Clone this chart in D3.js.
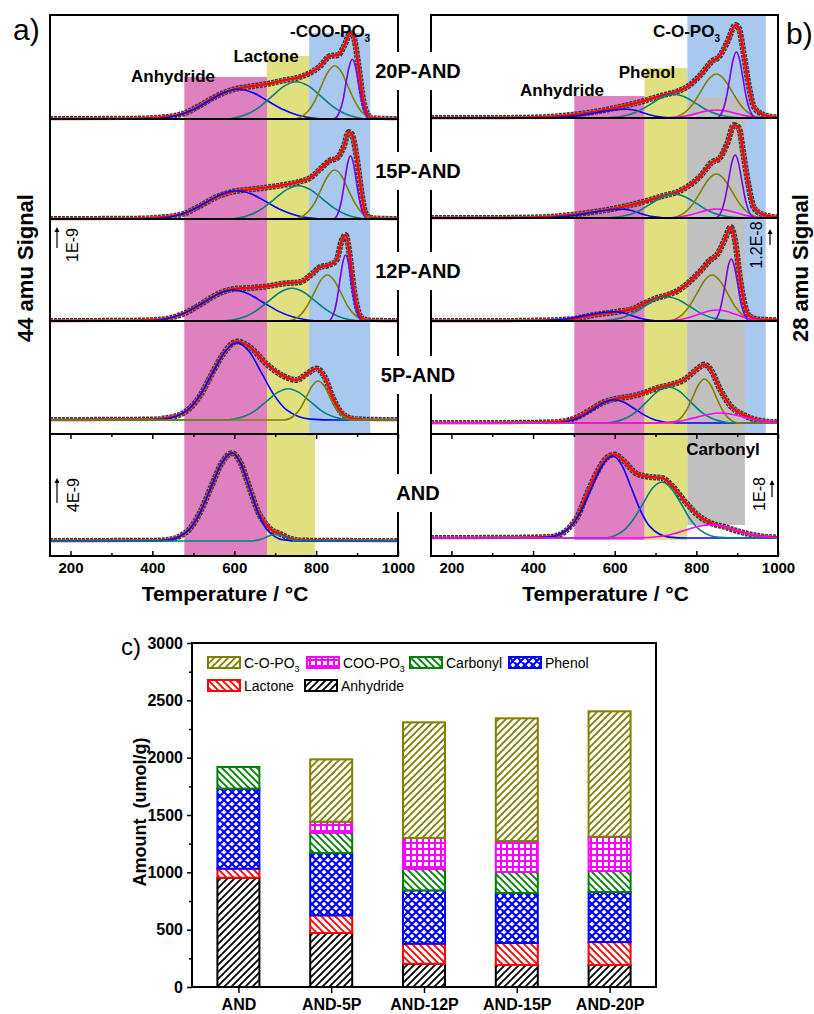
<!DOCTYPE html>
<html>
<head>
<meta charset="utf-8">
<script src="https://cdn.jsdelivr.net/npm/d3@7"></script>
<style>
body { margin: 0; background: #fff; }
svg text { font-family: "Liberation Sans", Arial, Helvetica, sans-serif; }
</style>
</head>
<body>
<svg id="chart" width="814" height="1014"></svg>
<script>
// ---- panels a) / b): TPD signals, [temperature (C), signal (a.u.)] ----
var tempTicks = [200, 400, 600, 800, 1000];
var tempMinor = [300, 500, 700, 900];
var rowLabels = ["20P-AND", "15P-AND", "12P-AND", "5P-AND", "AND"];

// shaded ranges (C)
var co2Bands = [[478, 680], [680, 797], [783, 932]];            // anhydride, lactone, -COO-PO3
var coBands = [[501, 673], [673, 778], [778, 970], [778, 919]];  // anhydride, phenol, C-O-PO3, carbonyl

// 44 amu, peaks: anhydride, lactone, 3rd, 4th
var co2_20P = {
	fit: [[150,0],[350,0.3],[419,1.5],[478,5.7],[516,13.5],[557,23],[598,29.5],[638,32.5],[679,35],[720,38.5],[761,42],[785,46],[810,53],[834,63],[854,64],[871,75.5],[883,86],[891,83],[903,55],[915,19],[923,7],[936,1],[960,0.3],[1000,0]],
	peaks: [
		[[394,0],[466,4.0],[502,9.7],[538,18.0],[574,26.2],[610,29.7],[646,26.2],[682,18.0],[718,9.7],[754,4.0],[826,0]],
		[[572,0],[632,5.0],[662,12.1],[692,22.6],[722,32.9],[752,37.3],[782,32.9],[812,22.6],[842,12.1],[872,5.0],[932,0]],
		[[746,0],[779,7.2],[796,17.3],[812,32.4],[829,47.0],[845,53.3],[862,47.0],[878,32.4],[895,17.3],[911,7.2],[944,0]],
		[[843,0],[858,8.1],[866,19.4],[873,36.2],[881,52.7],[888,59.7],[896,52.7],[903,36.2],[911,19.4],[918,8.1],[933,0]]
	]
};
var co2_15P = {
	fit: [[150,0],[350,0.3],[419,1.5],[478,5.5],[516,13],[557,22],[598,27.5],[638,29.5],[679,31.5],[720,34],[761,37.5],[785,41],[810,50],[834,58.5],[850,60.5],[867,72],[880,87],[887,85],[899,62],[911,26],[919,8],[931,1.3],[960,0.3],[1000,0]],
	peaks: [
		[[390,0],[462,3.8],[498,9.2],[534,17.2],[570,25.0],[606,28.3],[642,25.0],[678,17.2],[714,9.2],[750,3.8],[822,0]],
		[[583,0],[641,4.5],[670,10.8],[699,20.2],[728,29.4],[757,33.3],[786,29.4],[815,20.2],[844,10.8],[873,4.5],[931,0]],
		[[746,0],[779,6.6],[796,15.9],[812,29.7],[829,43.2],[845,49],[862,43.2],[878,29.7],[895,15.9],[911,6.6],[944,0]],
		[[842,0],[856,8.5],[863,20.6],[870,38.4],[877,55.8],[884,63.3],[891,55.8],[898,38.4],[905,20.6],[912,8.5],[926,0]]
	]
};
var co2_12P = {
	fit: [[150,0],[350,0.3],[419,1.4],[478,7.7],[516,16.2],[557,26.4],[598,32],[638,33],[679,34.6],[720,37.5],[761,39],[790,47],[810,54],[832,56],[850,61],[862,80],[872,86],[882,66],[892,32],[902,11],[915,2],[940,0.3],[1000,0]],
	peaks: [
		[[382,0],[454,4.2],[490,10.1],[526,18.8],[562,27.3],[598,31],[634,27.3],[670,18.8],[706,10.1],[742,4.2],[814,0]],
		[[570,0],[627,4.4],[655,10.6],[684,19.8],[712,28.8],[741,32.7],[770,28.8],[798,19.8],[827,10.6],[855,4.4],[912,0]],
		[[729,0],[762,6.2],[778,15],[795,27.9],[811,40.6],[828,46],[844,40.6],[861,27.9],[877,15],[894,6.2],[927,0]],
		[[830,0],[844,8.9],[851,21.5],[858,40.1],[865,58.2],[872,66],[879,58.2],[886,40.1],[893,21.5],[900,8.9],[914,0]]
	]
};
var co2_5P = {
	fit: [[150,0],[400,0.5],[435,2],[478,7.5],[516,24],[549,49],[573,66],[607,78.5],[638,73],[679,56],[720,44],[752,40],[777,46],[801,51.5],[822,42],[841,22],[866,5.5],[891,1.2],[923,0.3],[1000,0]],
	peaks: [
		[[367,0],[427,0.9],[487,10.4],[517,25.1],[547,46.9],[577,68.2],[607,77.3],[637,68.2],[667,46.9],[697,25.1],[727,10.4],[787,0.9],[847,0]],
		[[576,0],[628,4.2],[654,10.2],[680,19],[706,27.6],[732,31.3],[758,27.6],[784,19],[810,10.2],[836,4.2],[888,0]],
		[[721,0],[749,5.3],[763,12.7],[777,23.7],[791,34.4],[805,39],[819,34.4],[833,23.7],[847,12.7],[861,5.3],[889,0]]
	]
};
var co2_AND = {
	fit: [[150,0],[400,0.3],[439,1.2],[470,5.5],[491,12],[517,29],[543,53.5],[569,77.6],[595,88],[616,77.6],[637,53.5],[658,29.5],[679,16],[695,10],[708,8],[720,5.5],[740,2],[770,0.4],[1000,0]],
	peaks: [
		[[387,0],[439,1.0],[491,11.9],[517,28.6],[543,53.4],[569,77.6],[595,88],[616,77.6],[637,53.4],[658,28.6],[679,11.9],[721,1.0],[763,0]],
		[[636,0],[658,0.9],[669,2.2],[680,4.1],[691,5.9],[702,6.7],[713,5.9],[724,4.1],[735,2.2],[746,0.9],[768,0]]
	]
};

// 28 amu, peaks: anhydride, phenol, 3rd, carbonyl, C-O-PO3
var co_20P = {
	fit: [[150,0],[300,0],[400,0.5],[491,3],[548,6],[606,10.5],[671,17],[720,23],[753,26.5],[777,31],[810,43],[839,57],[855,61],[876,76],[896,93],[904,90],[916,64],[929,31],[941,11],[966,3],[1000,0.5]],
	peaks: [
		[[405,0],[480,1.2],[517,2.8],[555,5.3],[592,7.7],[630,8.7],[650,7.7],[670,5.3],[690,2.8],[710,1.2],[750,0]],
		[[580,0],[635,3.2],[662,7.7],[690,14.4],[717,20.9],[745,23.7],[772,20.9],[800,14.4],[827,7.7],[855,3.2],[910,0]],
		[[735,0],[773,5.9],[792,14.3],[811,26.7],[830,38.8],[849,44],[868,38.8],[887,26.7],[906,14.3],[925,5.9],[963,0]],
		[[714,0],[759,1.1],[781,2.6],[804,4.9],[826,7.1],[849,8],[871,7.1],[894,4.9],[916,2.6],[939,1.1],[984,0]],
		[[850,0],[866,8.9],[874,21.5],[882,40.1],[890,58.2],[898,66],[906,58.2],[914,40.1],[922,21.5],[930,8.9],[946,0]]
	]
};
var co_15P = {
	fit: [[150,0],[300,0],[400,0.5],[491,3],[548,6],[606,10],[671,16.3],[720,22.3],[753,26],[777,31],[810,42],[839,56],[855,59],[876,75],[892,93],[904,90],[916,62],[929,30],[941,10],[966,3],[1000,0.7]],
	peaks: [
		[[393,0],[468,1.2],[505,2.8],[543,5.3],[580,7.7],[618,8.7],[638,7.7],[658,5.3],[678,2.8],[698,1.2],[738,0]],
		[[580,0],[635,3.2],[662,7.8],[690,14.6],[717,21.2],[745,24],[772,21.2],[800,14.6],[827,7.8],[855,3.2],[910,0]],
		[[735,0],[773,5.9],[792,14.3],[811,26.7],[830,38.8],[849,44],[868,38.8],[887,26.7],[906,14.3],[925,5.9],[963,0]],
		[[716,0],[761,1.2],[783,2.9],[806,5.5],[828,7.9],[851,9],[873,7.9],[896,5.5],[918,2.9],[941,1.2],[986,0]],
		[[847,0],[863,8.5],[871,20.5],[879,38.2],[887,55.6],[895,63],[903,55.6],[911,38.2],[919,20.5],[927,8.5],[943,0]]
	]
};
var co_12P = {
	fit: [[150,0],[300,0],[420,0.5],[491,1.7],[548,6],[606,9.3],[650,13],[671,17.5],[700,22.5],[728,26],[753,30],[780,38],[810,50],[834,61],[850,66],[870,82],[884,94],[895,80],[906,45],[918,17],[930,5],[955,1.5],[1000,0.8]],
	peaks: [
		[[390,0],[460,1.3],[495,3],[530,5.6],[565,8.2],[600,9.3],[620,8.2],[640,5.6],[660,3],[680,1.3],[720,0]],
		[[563,0],[618,3.3],[645,7.9],[673,14.7],[700,21.4],[728,24.3],[755,21.4],[783,14.7],[810,7.9],[838,3.3],[893,0]],
		[[728,0],[765,6.2],[783,15],[802,27.9],[820,40.6],[839,46],[857,40.6],[876,27.9],[894,15],[913,6.2],[950,0]],
		[[716,0],[761,1.5],[783,3.6],[806,6.7],[828,9.7],[851,11],[873,9.7],[896,6.7],[918,3.6],[941,1.5],[986,0]],
		[[841,0],[856,8.4],[863,20.2],[871,37.6],[878,54.7],[886,62],[893,54.7],[901,37.6],[908,20.2],[916,8.4],[931,0]]
	]
};
var co_5P = {
	fit: [[150,0],[300,0],[430,0.5],[475,1.7],[508,5.7],[540,13],[573,20.7],[606,24.5],[638,26.5],[671,30],[704,35],[736,38.3],[769,43],[802,54],[820,58.5],[835,53.5],[859,33],[884,17],[916,8],[957,2.3],[1000,0.7]],
	peaks: [
		[[449,0],[499,3.1],[524,7.6],[549,14.1],[574,20.6],[599,23.3],[624,20.6],[649,14.1],[674,7.6],[699,3.1],[749,0]],
		[[576,0],[628,4.9],[654,11.7],[680,21.9],[706,31.8],[732,36],[758,31.8],[784,21.9],[810,11.7],[836,4.9],[888,0]],
		[[736,0],[764,5.9],[778,14.3],[792,26.7],[806,38.8],[820,44],[834,38.8],[848,26.7],[862,14.3],[876,5.9],[904,0]],
		[[694,0],[749,1.4],[776,3.3],[804,6.1],[831,8.8],[859,10],[886,8.8],[914,6.1],[941,3.3],[969,1.4],[1000,0.4]]
	]
};
var co_AND = {
	fit: [[150,0],[350,0.3],[420,0.8],[442,1.2],[467,3.5],[491,11.5],[507,20],[532,44],[557,66],[580,80],[600,83.5],[622,77],[655,64],[687,61],[716,60],[741,52],[773,36],[806,22],[835,15],[870,11],[900,7],[950,2.2],[1000,0.5]],
	peaks: [
		[[387,0],[439,0.9],[491,11.1],[517,26.7],[543,49.7],[569,72.3],[595,82],[618,72.3],[641,49.7],[664,26.7],[687,11.1],[733,0.9],[779,0]],
		[[575,0],[622,7.6],[645,18.2],[669,34],[692,49.4],[716,56],[739,49.4],[763,34],[786,18.2],[810,7.6],[857,0.6],[904,0]],
		null,
		[[655,0],[715,1.8],[745,4.3],[775,8.1],[805,11.7],[835,13.3],[865,11.7],[895,8.1],[925,4.3],[955,1.8],[1000,0.3]]
	]
};

// ---- panel c): amounts (umol/g) ----
var samples = ["AND", "AND-5P", "AND-12P", "AND-15P", "AND-20P"];
var anhydride = [953, 471, 203, 192, 192];
var lactone = [79, 154, 175, 192, 200];
var phenol = [698, 544, 465, 436, 436];
var carbonyl = [189, 177, 186, 183, 184];
var cooPO3 = [0, 96, 270, 270, 299];
var coPO3 = [0, 543, 1009, 1070, 1093];
var amountTicks = [0, 500, 1000, 1500, 2000, 2500, 3000];
var amountMinor = [250, 750, 1250, 1750, 2250, 2750];

var svg = d3.select("#chart");
var defs = svg.append("defs");
var fontFamily = '"Liberation Sans", Arial, sans-serif';

var xA = d3.scaleLinear().domain([150, 1000]).range([50, 398]);
var xB = d3.scaleLinear().domain([150, 1000]).range([431, 778]);
var frameTop = 15, frameBottom = 556, splitY = 434;
var colorsA = ["#0000ff", "#008080", "#808000", "#8000e0"];
var colorsB = ["#0000ff", "#008080", "#808000", "#ff00ff", "#8000e0"];

function shade(x, band, top, bottom, fill) {
	svg.append("rect")
		.attr("x", x(band[0])).attr("y", top)
		.attr("width", x(band[1]) - x(band[0])).attr("height", bottom - top)
		.attr("fill", fill);
}

// shaded regions
shade(xA, co2Bands[0], 77, frameBottom, "#df80c0");
shade(xA, co2Bands[1], 56, frameBottom, "#e0e080");
shade(xA, co2Bands[2], 33, splitY, "#a8c8f0");
shade(xB, coBands[1], 68, 540, "#e0e080");
shade(xB, coBands[0], 96, 540, "#df80c0");
shade(xB, coBands[2], frameTop, splitY, "#a8c8f0");
shade(xB, coBands[3], 97, 525, "#c0c0c0");

var clipCount = 0;
function drawRow(x, base, top, row, colors) {
	var y = d3.scaleLinear().domain([0, 100]).range([base, base - 100]);
	var line = d3.line()
		.x(function (d) { return x(d[0]); })
		.y(function (d) { return y(d[1]); })
		.curve(d3.curveMonotoneX);

	var id = "rowclip" + (clipCount++);
	svg.append("clipPath").attr("id", id).append("rect")
		.attr("x", x.range()[0]).attr("y", top)
		.attr("width", x.range()[1] - x.range()[0]).attr("height", base - top + 0.5);

	// measured points (open circles) shown as a band
	svg.append("path").datum(row.fit)
		.attr("d", line).attr("clip-path", "url(#" + id + ")")
		.attr("fill", "none").attr("stroke", "#383838").attr("stroke-width", 6)
		.attr("stroke-dasharray", "3,1");
	svg.append("path").datum(row.fit)
		.attr("d", line).attr("clip-path", "url(#" + id + ")")
		.attr("fill", "none").attr("stroke", "#a0a0a0").attr("stroke-width", 3);
	// cumulative fit
	svg.append("path").datum(row.fit)
		.attr("d", line).attr("fill", "none")
		.attr("stroke", "#ff0000").attr("stroke-width", 2.6);
	// fitted peaks
	row.peaks.forEach(function (p, i) {
		if (!p) return;
		var pts = [[x.domain()[0], 0]].concat(p);
		if (p[p.length - 1][0] < x.domain()[1]) pts.push([x.domain()[1], 0]);
		svg.append("path").datum(pts)
			.attr("d", line).attr("fill", "none")
			.attr("stroke", colors[i]).attr("stroke-width", 1.6);
	});
}

var rowsA = [co2_20P, co2_15P, co2_12P, co2_5P, co2_AND];
var rowsB = [co_20P, co_15P, co_12P, co_5P, co_AND];
var basesA = [119, 219, 321, 420, 541];
var basesB = [118, 218, 321, 423, 538];
var topsA = [frameTop, 119, 219, 321, splitY];
var topsB = [frameTop, 118, 218, 321, splitY];
rowsA.forEach(function (r, i) { drawRow(xA, basesA[i], topsA[i], r, colorsA); });
rowsB.forEach(function (r, i) { drawRow(xB, basesB[i], topsB[i], r, colorsB); });

function styleAxis(g, size) {
	g.select(".domain").remove();
	g.selectAll("line").attr("stroke-width", 1.5);
	g.selectAll("text").attr("font-size", size).attr("font-weight", "bold").attr("fill", "#000")
		.attr("font-family", fontFamily);
	return g;
}

// frames
function frame(x, seps) {
	var l = x.range()[0], r = x.range()[1];
	var g = svg.append("g").attr("stroke", "#000").attr("stroke-width", 2).attr("fill", "none");
	g.append("rect").attr("x", l).attr("y", frameTop).attr("width", r - l).attr("height", frameBottom - frameTop);
	seps.forEach(function (s) {
		g.append("line").attr("x1", l).attr("x2", r).attr("y1", s).attr("y2", s);
	});

	styleAxis(svg.append("g").attr("transform", "translate(0," + frameBottom + ")")
		.call(d3.axisBottom(x).tickValues(tempTicks).tickFormat(d3.format("d"))
			.tickSizeInner(-5).tickSizeOuter(0).tickPadding(6)), 15);
	styleAxis(svg.append("g").attr("transform", "translate(0," + frameBottom + ")")
		.call(d3.axisBottom(x).tickValues(tempMinor).tickSizeInner(-3).tickSizeOuter(0).tickFormat("")), 15);
	styleAxis(svg.append("g").attr("transform", "translate(0," + splitY + ")")
		.call(d3.axisBottom(x).tickValues(tempTicks).tickSizeInner(5).tickSizeOuter(0).tickFormat("")), 15);
	styleAxis(svg.append("g").attr("transform", "translate(0," + splitY + ")")
		.call(d3.axisBottom(x).tickValues(tempMinor).tickSizeInner(3).tickSizeOuter(0).tickFormat("")), 15);

	svg.append("text").attr("x", (l + r) / 2 + 1).attr("y", 601)
		.attr("text-anchor", "middle").attr("font-size", 21).attr("font-weight", "bold")
		.text("Temperature / °C");
}
frame(xA, [119, 219, 321, splitY]);
frame(xB, [118, 218, 321, splitY]);

// sample labels between the panels
var labelY = [71, 171, 271, 375, 493];
rowLabels.forEach(function (t, i) {
	var txt = svg.append("text").attr("x", 418).attr("y", labelY[i] + 7)
		.attr("text-anchor", "middle").attr("font-size", 20).attr("font-weight", "bold").text(t);
	var w = txt.node().getComputedTextLength();
	svg.insert("rect", function () { return txt.node(); })
		.attr("x", 418 - w / 2 - 3).attr("y", labelY[i] - 19)
		.attr("width", w + 6).attr("height", 38).attr("fill", "#fff");
});

// region labels
function label(x, y, t, sub, anchor) {
	var el = svg.append("text").attr("x", x).attr("y", y)
		.attr("font-size", 17).attr("font-weight", "bold").attr("text-anchor", anchor || "middle");
	el.append("tspan").text(t);
	if (sub) el.append("tspan").attr("dy", 5).attr("font-size", 10).text(sub);
}
label(173, 82, "Anhydride");
label(266, 62, "Lactone");
label(290, 37, "-COO-PO", "3", "start");
label(562, 96, "Anhydride");
label(647, 78, "Phenol");
label(653, 37, "C-O-PO", "3", "start");
label(723, 455, "Carbonyl");

// intensity scale arrows
function scaleBar(xp, y0, y1, tx, ty, t) {
	svg.append("line").attr("x1", xp).attr("x2", xp).attr("y1", y0).attr("y2", y1 + 3)
		.attr("stroke", "#000").attr("stroke-width", 1.2);
	svg.append("path").attr("d", "M" + (xp - 2.5) + "," + (y1 + 5) + "L" + xp + "," + y1 + "L" + (xp + 2.5) + "," + (y1 + 5) + "Z")
		.attr("fill", "#000");
	svg.append("text").attr("transform", "translate(" + tx + "," + ty + ") rotate(-90)")
		.attr("text-anchor", "middle").attr("font-size", 16).text(t);
}
scaleBar(57, 248, 227, 78, 245, "1E-9");
scaleBar(57, 503, 478, 79, 495, "4E-9");
scaleBar(770, 245, 229, 762, 245, "1.2E-8");
scaleBar(772, 497, 480, 765, 494, "1E-8");

svg.append("text").attr("transform", "translate(33,268) rotate(-90)")
	.attr("text-anchor", "middle").attr("font-size", 22).attr("font-weight", "bold").text("44 amu Signal");
svg.append("text").attr("transform", "translate(808,268) rotate(-90)")
	.attr("text-anchor", "middle").attr("font-size", 22).attr("font-weight", "bold").text("28 amu Signal");
svg.append("text").attr("x", 13).attr("y", 40).attr("font-size", 30).text("a)");
svg.append("text").attr("x", 786).attr("y", 44).attr("font-size", 30).text("b)");

// ---- panel c) ----
var seriesKeys = ["anhydride", "lactone", "phenol", "carbonyl", "coo", "cop"];
var seriesNames = ["Anhydride", "Lactone", "Phenol", "Carbonyl", "COO-PO3", "C-O-PO3"];
var seriesColors = ["#000000", "#ff0000", "#0000ff", "#008000", "#ff00ff", "#808000"];
var seriesPattern = ["fwd", "back", "cross", "back", "grid", "fwd"];

seriesKeys.forEach(function (k, i) {
	var c = seriesColors[i], type = seriesPattern[i];
	var size = type === "grid" ? 6 : (type === "cross" ? 8 : 7);
	var p = defs.append("pattern").attr("id", "pat-" + k)
		.attr("patternUnits", "userSpaceOnUse").attr("width", size).attr("height", size);
	p.append("rect").attr("width", size).attr("height", size).attr("fill", "#fff");
	var s = size, d;
	var fwd = "M0," + s + "L" + s + ",0M-1,1L1,-1M" + (s - 1) + "," + (s + 1) + "L" + (s + 1) + "," + (s - 1);
	var back = "M0,0L" + s + "," + s + "M-1," + (s - 1) + "L1," + (s + 1) + "M" + (s - 1) + ",-1L" + (s + 1) + ",1";
	if (type === "fwd") d = fwd;
	else if (type === "back") d = back;
	else if (type === "cross") d = fwd + back;
	else d = "M0," + (s / 2) + "H" + s + "M" + (s / 2) + ",0V" + s;
	p.append("path").attr("d", d).attr("stroke", c)
		.attr("stroke-width", type === "cross" ? 2.2 : (type === "grid" ? 2 : 1.8)).attr("fill", "none");
});

var table = samples.map(function (s, i) {
	return { sample: s, anhydride: anhydride[i], lactone: lactone[i], phenol: phenol[i],
		carbonyl: carbonyl[i], coo: cooPO3[i], cop: coPO3[i] };
});
var stacked = d3.stack().keys(seriesKeys)(table);

var xC = d3.scalePoint().domain(samples).range([192, 656]).padding(0.5);
var yC = d3.scaleLinear().domain([0, 3000]).range([987, 643]);
var barW = 42;

stacked.forEach(function (layer, i) {
	svg.append("g").selectAll("rect")
		.data(layer.filter(function (d) { return d[1] > d[0]; }))
		.enter().append("rect")
		.attr("x", function (d) { return xC(d.data.sample) - barW / 2; })
		.attr("y", function (d) { return yC(d[1]); })
		.attr("width", barW)
		.attr("height", function (d) { return yC(d[0]) - yC(d[1]); })
		.attr("fill", "url(#pat-" + seriesKeys[i] + ")")
		.attr("stroke", seriesColors[i]).attr("stroke-width", 2);
});

styleAxis(svg.append("g").attr("transform", "translate(192,0)")
	.call(d3.axisLeft(yC).tickValues(amountTicks).tickFormat(d3.format("d")).tickSize(5).tickPadding(4)), 16);
styleAxis(svg.append("g").attr("transform", "translate(192,0)")
	.call(d3.axisLeft(yC).tickValues(amountMinor).tickSize(3).tickFormat("")), 16);
styleAxis(svg.append("g").attr("transform", "translate(0,987)")
	.call(d3.axisBottom(xC).tickSize(6).tickPadding(6)), 16);

svg.append("rect").attr("x", 192).attr("y", 643).attr("width", 656 - 192).attr("height", 987 - 643)
	.attr("fill", "none").attr("stroke", "#000").attr("stroke-width", 2);

svg.append("text").attr("transform", "translate(146,812) rotate(-90)")
	.attr("text-anchor", "middle").attr("font-size", 18).attr("font-weight", "bold")
	.attr("xml:space", "preserve").text("Amount  (umol/g)");
svg.append("text").attr("x", 121).attr("y", 655).attr("font-size", 24).text("c)");

// legend
var legendOrder = [5, 4, 3, 2, 1, 0];
var legendX = [208, 307, 410, 509, 208, 305];
var legendY = [657, 657, 657, 657, 680, 680];
legendOrder.forEach(function (si, j) {
	var g = svg.append("g").attr("transform", "translate(" + legendX[j] + "," + legendY[j] + ")");
	g.append("rect").attr("width", 32).attr("height", 11)
		.attr("fill", "url(#pat-" + seriesKeys[si] + ")")
		.attr("stroke", seriesColors[si]).attr("stroke-width", 2);
	var name = seriesNames[si];
	var t = g.append("text").attr("x", 36).attr("y", 11).attr("font-size", 14);
	if (/PO3$/.test(name)) {
		t.append("tspan").text(name.slice(0, -1));
		t.append("tspan").attr("dy", 4).attr("font-size", 9).text("3");
	} else {
		t.text(name);
	}
});
</script>
</body>
</html>
